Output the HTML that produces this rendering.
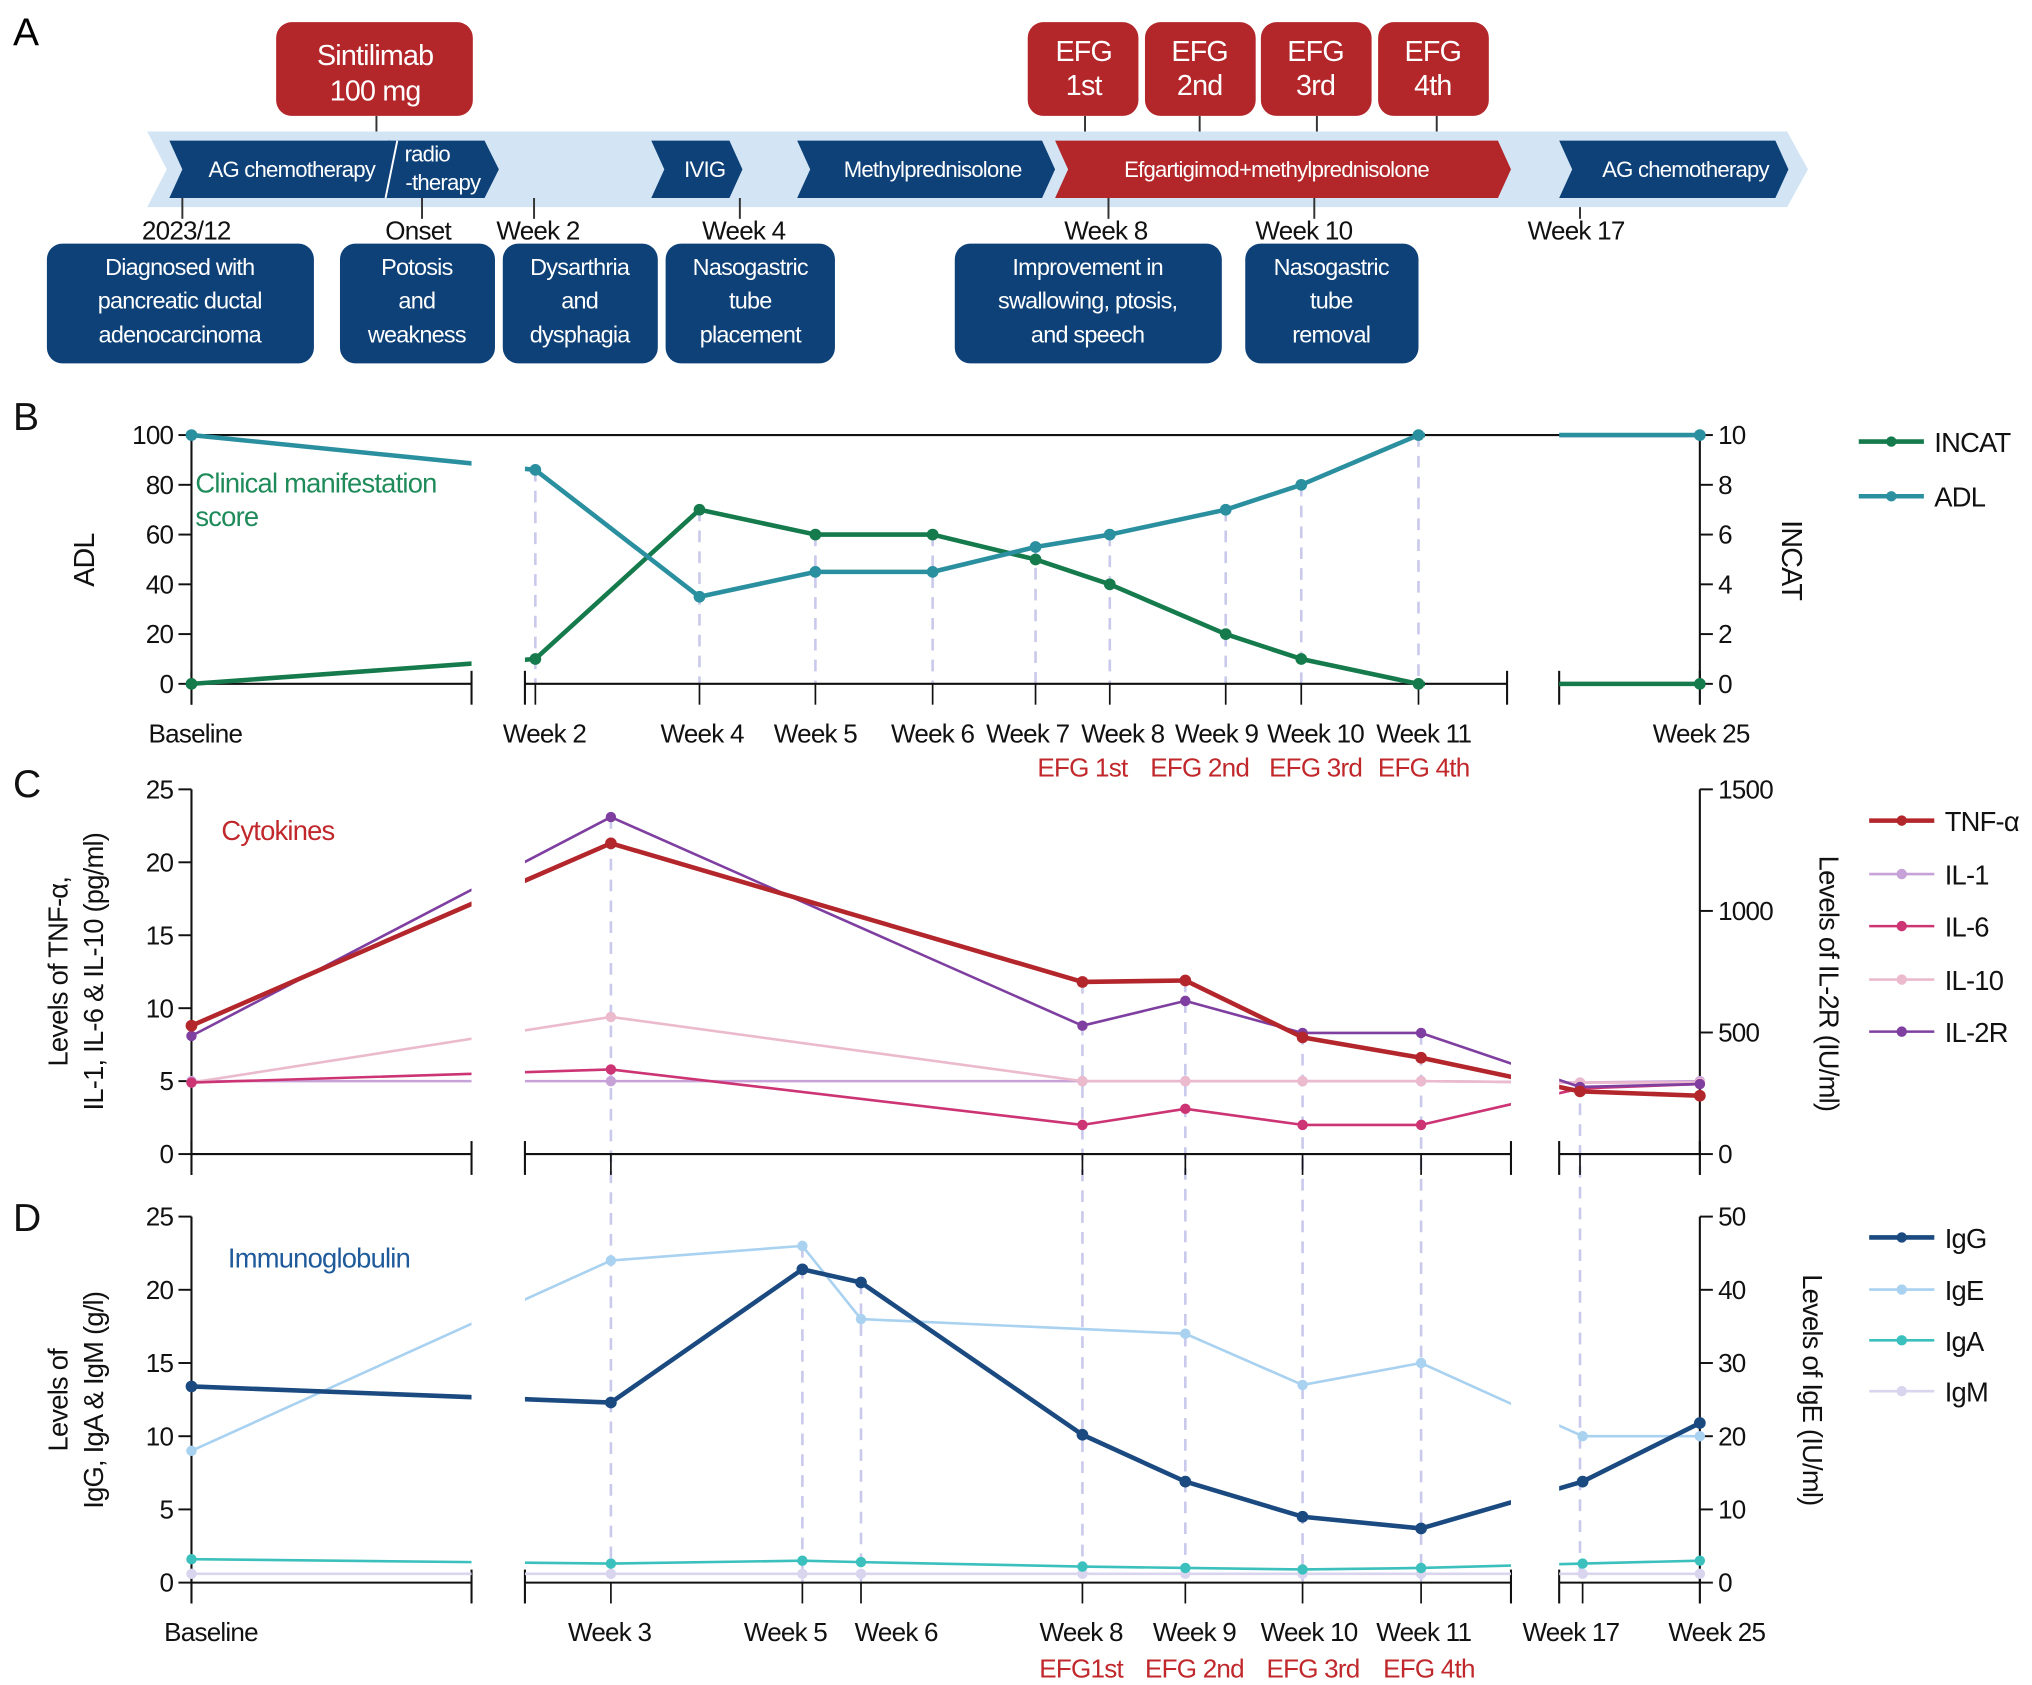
<!DOCTYPE html>
<html><head><meta charset="utf-8">
<style>
html,body{margin:0;padding:0;background:#fff;}
svg{display:block;font-family:"Liberation Sans",Arial,sans-serif;}
svg text{letter-spacing:-0.6px;}
</style></head>
<body>
<svg id="fig" width="2032" height="1685" viewBox="0 0 1560 1293.6" preserveAspectRatio="none" xmlns="http://www.w3.org/2000/svg">
<rect width="1560" height="1294" fill="#fff"/>
<!-- Panel A -->
<g>
<text x="10" y="35" font-size="30">A</text>
<g fill="#b3272b">
<rect x="212" y="17" width="151" height="72" rx="12"/>
<rect x="789" y="17" width="85" height="72" rx="12"/>
<rect x="879" y="17" width="85" height="72" rx="12"/>
<rect x="968" y="17" width="85" height="72" rx="12"/>
<rect x="1058" y="17" width="85" height="72" rx="12"/>
</g>
<g fill="#fff" font-size="22" text-anchor="middle">
<text x="288" y="50">Sintilimab</text><text x="288" y="77">100 mg</text>
<text x="832" y="47">EFG</text><text x="832" y="73">1st</text>
<text x="921" y="47">EFG</text><text x="921" y="73">2nd</text>
<text x="1010" y="47">EFG</text><text x="1010" y="73">3rd</text>
<text x="1100" y="47">EFG</text><text x="1100" y="73">4th</text>
</g>
<g stroke="#333" stroke-width="1.5">
<line x1="289" y1="89" x2="289" y2="104"/><line x1="833" y1="89" x2="833" y2="104"/><line x1="921" y1="89" x2="921" y2="104"/><line x1="1011" y1="89" x2="1011" y2="104"/><line x1="1103" y1="89" x2="1103" y2="104"/>
</g>
<polygon points="113,101 1372,101 1388,130 1372,159 113,159 128,130" fill="#d3e5f4"/>
<g fill="#0d4178">
<polygon points="130,108 300,108 310,130 300,152 130,152 140,130"/>
<polygon points="298,108 372,108 383,130 372,152 298,152 307,130"/>
<polygon points="500,108 560,108 570,130 560,152 500,152 510,130"/>
<polygon points="612,108 800,108 810,130 800,152 612,152 622,130"/>
<polygon points="1197,108 1363,108 1373,130 1363,152 1197,152 1207,130"/>
</g>
<polygon points="810,108 1150,108 1160,130 1150,152 810,152 820,130" fill="#b3272b"/>
<line x1="305" y1="108" x2="296" y2="152" stroke="#fff" stroke-width="1.5"/>
<g fill="#fff" font-size="17" text-anchor="middle">
<text x="224" y="136">AG chemotherapy</text>
<text x="328" y="124">radio</text><text x="340" y="146">-therapy</text>
<text x="541" y="136">IVIG</text>
<text x="716" y="136">Methylprednisolone</text>
<text x="980" y="136">Efgartigimod+methylprednisolone</text>
<text x="1294" y="136">AG chemotherapy</text>
</g>
<g stroke="#333" stroke-width="1.5">
<line x1="140" y1="152" x2="140" y2="168"/><line x1="324" y1="152" x2="324" y2="168"/><line x1="410" y1="152" x2="410" y2="168"/><line x1="568" y1="152" x2="568" y2="168"/><line x1="851" y1="152" x2="851" y2="168"/><line x1="1009" y1="152" x2="1009" y2="168"/><line x1="1213" y1="159" x2="1213" y2="168"/>
</g>
<g font-size="20" text-anchor="middle" fill="#111">
<text x="143" y="184">2023/12</text><text x="321" y="184">Onset</text><text x="413" y="184">Week 2</text><text x="571" y="184">Week 4</text><text x="849" y="184">Week 8</text><text x="1001" y="184">Week 10</text><text x="1210" y="184">Week 17</text>
</g>
<g fill="#0d4178">
<rect x="36" y="187" width="205" height="92" rx="12"/>
<rect x="261" y="187" width="119" height="92" rx="12"/>
<rect x="386" y="187" width="119" height="92" rx="12"/>
<rect x="511" y="187" width="130" height="92" rx="12"/>
<rect x="733" y="187" width="205" height="92" rx="12"/>
<rect x="956" y="187" width="133" height="92" rx="12"/>
</g>
<g fill="#fff" font-size="18" text-anchor="middle">
<text x="138" y="211">Diagnosed with</text><text x="138" y="237">pancreatic ductal</text><text x="138" y="263">adenocarcinoma</text>
<text x="320" y="211">Potosis</text><text x="320" y="237">and</text><text x="320" y="263">weakness</text>
<text x="445" y="211">Dysarthria</text><text x="445" y="237">and</text><text x="445" y="263">dysphagia</text>
<text x="576" y="211">Nasogastric</text><text x="576" y="237">tube</text><text x="576" y="263">placement</text>
<text x="835" y="211">Improvement in</text><text x="835" y="237">swallowing, ptosis,</text><text x="835" y="263">and speech</text>
<text x="1022" y="211">Nasogastric</text><text x="1022" y="237">tube</text><text x="1022" y="263">removal</text>
</g>
</g>
<g id="charts"></g>
</svg>
<script>
// ---------- DATA ----------
const bCats = ['Baseline','Week 2','Week 4','Week 5','Week 6','Week 7','Week 8','Week 9','Week 10','Week 11','Week 25'];
const bADL   = [100, 86, 35, 45, 45, 55, 60, 70, 80, 100, 100];
const bINCAT = [0, 1, 7, 6, 6, 5, 4, 2, 1, 0, 0];
const bLeftTicks = [0,20,40,60,80,100];
const bRightTicks = [0,2,4,6,8,10];

const cCats = ['Baseline','Week 3','Week 8','Week 9','Week 10','Week 11','Week 17','Week 25'];
const cTNF  = [8.8, 21.3, 11.8, 11.9, 8.0, 6.6, 4.3, 4.0];
const cIL1  = [5.0, 5.0, 5.0, 5.0, 5.0, 5.0, 4.9, 5.0];
const cIL6  = [4.9, 5.8, 2.0, 3.1, 2.0, 2.0, 4.5, 4.8];
const cIL10 = [4.9, 9.4, 5.0, 5.0, 5.0, 5.0, 4.9, 4.9];
const cIL2R = [486, 1386, 528, 630, 498, 498, 276, 288];
const cLeftTicks = [0,5,10,15,20,25];
const cRightTicks = [0,500,1000,1500];

const dCats = ['Baseline','Week 3','Week 5','Week 6','Week 8','Week 9','Week 10','Week 11','Week 17','Week 25'];
const dIgG = [13.4, 12.3, 21.4, 20.5, 10.1, 6.9, 4.5, 3.7, 6.9, 10.9];
const dIgE = [18, 44, 46, 36, null, 34, 27, 30, 20, 20];
const dIgA = [1.6, 1.3, 1.5, 1.4, 1.1, 1.0, 0.9, 1.0, 1.3, 1.5];
const dIgM = [0.6, 0.6, 0.6, 0.6, 0.6, 0.6, 0.6, 0.6, 0.6, 0.6];
const dLeftTicks = [0,5,10,15,20,25];
const dRightTicks = [0,10,20,30,40,50];

// ---------- LAYOUT ----------
const NS='http://www.w3.org/2000/svg';
const root=document.getElementById('charts');
function mk(tag,attrs,parent){const e=document.createElementNS(NS,tag);for(const k in attrs)e.setAttribute(k,attrs[k]);(parent||root).appendChild(e);return e;}
const XL=147, XR=1305;
const bX={'Baseline':147,'Week 2':411,'Week 4':537,'Week 5':626,'Week 6':716,'Week 7':795,'Week 8':852,'Week 9':941,'Week 10':999,'Week 11':1089,'Week 25':1305};
const cX={'Baseline':147,'Week 3':469,'Week 8':831,'Week 9':910,'Week 10':1000,'Week 11':1091,'Week 17':1213,'Week 25':1305};
const dX={'Baseline':147,'Week 3':469,'Week 5':616,'Week 6':661,'Week 8':831,'Week 9':910,'Week 10':1000,'Week 11':1091,'Week 17':1215,'Week 25':1305};

function scale(d0,d1,p0,p1){return v=>p0+(v-d0)*(p1-p0)/(d1-d0);}

let clipN=0;
function makeClip(gapEnd){
  const id='clip'+(clipN++);
  const cp=mk('clipPath',{id:id});
  mk('rect',{x:0,y:0,width:362,height:1300},cp);
  mk('rect',{x:403,y:0,width:gapEnd-403,height:1300},cp);
  mk('rect',{x:1197,y:0,width:400,height:1300},cp);
  return id;
}

function axes(p){
  const g=mk('g',{});
  
  
  mk('line',{x1:XL,y1:p.y0,x2:XL,y2:p.yTop,stroke:'#111','stroke-width':1.6},g);
  mk('line',{x1:XR,y1:p.y0,x2:XR,y2:p.yTop,stroke:'#111','stroke-width':1.6},g);
  if(p.topLine) mk('line',{x1:XL,y1:p.yTop,x2:XR,y2:p.yTop,stroke:'#111','stroke-width':1.6},g);
  [[XL,362],[403,p.gapEnd],[1197,XR]].forEach(s=>{
    mk('line',{x1:s[0],y1:p.y0,x2:s[1],y2:p.y0,stroke:'#111','stroke-width':1.6},g);
    mk('line',{x1:s[0],y1:p.y0-10,x2:s[0],y2:p.y0+16,stroke:'#111','stroke-width':1.6},g);
    mk('line',{x1:s[1],y1:p.y0-10,x2:s[1],y2:p.y0+16,stroke:'#111','stroke-width':1.6},g);
  });
  for(const c in p.xmap){mk('line',{x1:p.xmap[c],y1:p.y0,x2:p.xmap[c],y2:p.y0+16,stroke:'#111','stroke-width':1.3},g);}
  p.lt.forEach(t=>{const y=p.ly(t);
    mk('line',{x1:XL-10,y1:y,x2:XL,y2:y,stroke:'#111','stroke-width':1.5},g);
    const tx=mk('text',{x:XL-14,y:y+7,'font-size':20,'text-anchor':'end',fill:'#111'},g);tx.textContent=t;
    
    });
  p.rt.forEach(t=>{const y=p.ry(t);
    mk('line',{x1:XR,y1:y,x2:XR+10,y2:y,stroke:'#111','stroke-width':1.5},g);
    const tx=mk('text',{x:XR+14,y:y+7,'font-size':20,'text-anchor':'start',fill:'#111'},g);tx.textContent=t;
    
    });
}

function series(p,cats,vals,ysc,color,w,r,name){
  const g=mk('g',{'clip-path':'url(#'+p.clip+')'});
  
  
  const pts=[];
  cats.forEach((c,i)=>{if(vals[i]!==null)pts.push([p.xmap[c],ysc(vals[i]),i]);});
  mk('polyline',{points:pts.map(q=>q[0]+','+q[1]).join(' '),fill:'none',stroke:color,'stroke-width':w,'stroke-linejoin':'round'},g);
  pts.forEach(q=>{
    const c=mk('circle',{cx:q[0],cy:q[1],r:r,fill:color},g);
    
    });
  return pts;
}

function legend(x,y,color,label,w){
  const g=mk('g',{});
  
  
  mk('line',{x1:x,y1:y,x2:x+50,y2:y,stroke:color,'stroke-width':w},g);
  mk('circle',{cx:x+25,cy:y,r:4,fill:color},g);
  const t=mk('text',{x:x+58,y:y+8,'font-size':21,fill:'#111'},g);t.textContent=label;
}
function txt(x,y,s,size,color,anchor,rot,name){
  const t=mk('text',{x:x,y:y,'font-size':size,fill:color,'text-anchor':anchor||'start'});
  if(rot)t.setAttribute('transform','rotate('+rot+' '+x+' '+y+')');
  t.textContent=s;
  
  
  return t;
}
function dash(x,y1,y2){mk('line',{x1:x,y1:y1,x2:x,y2:y2,stroke:'#c9c9ec','stroke-width':2,'stroke-dasharray':'9 7'});}

// ---------- PANEL B ----------
(function(){
  const p={name:'panel-b',y0:525,yTop:334,topLine:true,gapEnd:1157,xmap:bX,lt:bLeftTicks,rt:bRightTicks};
  p.ly=scale(0,100,525,334); p.ry=scale(0,10,525,334); p.clip=makeClip(1094);
  txt(10,330,'B',30,'#111','start',0,'panel-label-b');
  bCats.forEach((c,i)=>{ if(i===0||c==='Week 25')return; dash(bX[c],Math.min(p.ly(bADL[i]),p.ry(bINCAT[i])),525);});
  axes(p);
  series(p,bCats,bINCAT,p.ry,'#157a4c',3.5,4.5,'incat');
  series(p,bCats,bADL,p.ly,'#2a8f9f',3.5,4.5,'adl');
  const bl={'Baseline':150,'Week 2':418,'Week 4':539,'Week 5':626,'Week 6':716,'Week 7':789,'Week 8':862,'Week 9':934,'Week 10':1010,'Week 11':1093,'Week 25':1306};
  bCats.forEach(c=>txt(bl[c],570,c,20,'#111','middle',0,'x-tick-label'));
  [['EFG 1st',831],['EFG 2nd',921],['EFG 3rd',1010],['EFG 4th',1093]].forEach(e=>txt(e[1],596,e[0],20,'#c0282c','middle',0,'efg-dose-label'));
  txt(72,430,'ADL',22,'#111','middle',-90,'y-axis-title-adl');
  txt(1368,430,'INCAT',22,'#111','middle',90,'y-axis-title-incat');
  txt(150,378,'Clinical manifestation',21,'#1f8a5a','start',0,'panel-b-title');
  txt(150,404,'score',21,'#1f8a5a','start',0,'panel-b-title');
  legend(1427,339,'#157a4c','INCAT',3.5);
  legend(1427,381,'#2a8f9f','ADL',3.5);
})();

// ---------- PANEL C & D ----------
const pc={name:'panel-c',y0:886,yTop:606,topLine:false,gapEnd:1160,xmap:cX,lt:cLeftTicks,rt:cRightTicks};
pc.ly=scale(0,25,886,606); pc.ry=scale(0,1500,886,606); pc.clip=makeClip(1160);
const pd={name:'panel-d',y0:1215,yTop:934,topLine:false,gapEnd:1160,xmap:dX,lt:dLeftTicks,rt:dRightTicks};
pd.ly=scale(0,25,1215,934); pd.ry=scale(0,50,1215,934); pd.clip=makeClip(1160);

cCats.forEach((c,i)=>{ if(i===0||c==='Week 25')return;
  const top=Math.min(pc.ly(cTNF[i]),pc.ry(cIL2R[i]),pc.ly(cIL10[i]),pc.ly(cIL6[i]));
  dash(cX[c],top,1215);});
dCats.forEach((c,i)=>{ if(c==='Week 5'||c==='Week 6'){
  dash(dX[c],Math.min(pd.ly(dIgG[i]),pd.ry(dIgE[i])),1215);}});

(function(){
  const p=pc;
  txt(10,612,'C',30,'#111','start',0,'panel-label-c');
  axes(p);
  series(p,cCats,cIL1,p.ly,'#c7a2d9',2,4,'il1');
  series(p,cCats,cIL10,p.ly,'#ebbacd',2,4,'il10');
  series(p,cCats,cIL6,p.ly,'#cc3474',2,4,'il6');
  series(p,cCats,cIL2R,p.ry,'#7e3fa0',2,4,'il2r');
  series(p,cCats,cTNF,p.ly,'#b3262b',3.5,4.5,'tnf-alpha');
  txt(170,645,'Cytokines',21,'#c0282c','start',0,'panel-c-title');
  txt(52,746,'Levels of TNF-α,',21,'#111','middle',-90,'y-axis-title-cytokines');
  txt(79,746,'IL-1, IL-6 & IL-10 (pg/ml)',21,'#111','middle',-90,'y-axis-title-cytokines');
  txt(1397,755,'Levels of IL-2R (IU/ml)',21,'#111','middle',90,'y-axis-title-il2r');
  legend(1435,630,'#b3262b','TNF-α',3.5);
  legend(1435,671,'#c7a2d9','IL-1',2);
  legend(1435,711,'#cc3474','IL-6',2);
  legend(1435,752,'#ebbacd','IL-10',2);
  legend(1435,792,'#7e3fa0','IL-2R',2);
})();

(function(){
  const p=pd;
  txt(10,945,'D',30,'#111','start',0,'panel-label-d');
  axes(p);
  series(p,dCats,dIgM,p.ly,'#d9d5ee',2,4,'igm');
  series(p,dCats,dIgA,p.ly,'#3cc0bd',2,4,'iga');
  series(p,dCats,dIgE,p.ry,'#a9d1f0',2,4,'ige');
  series(p,dCats,dIgG,p.ly,'#1a4a80',3.5,4.5,'igg');
  const lx={'Baseline':162,'Week 3':468,'Week 5':603,'Week 6':688,'Week 8':830,'Week 9':917,'Week 10':1005,'Week 11':1093,'Week 17':1206,'Week 25':1318};
  dCats.forEach(c=>txt(lx[c],1260,c,20,'#111','middle',0,'x-tick-label'));
  [['EFG1st',830],['EFG 2nd',917],['EFG 3rd',1008],['EFG 4th',1097]].forEach(e=>txt(e[1],1288,e[0],20,'#c0282c','middle',0,'efg-dose-label'));
  txt(175,973,'Immunoglobulin',21,'#1f5a9a','start',0,'panel-d-title');
  txt(52,1075,'Levels of',21,'#111','middle',-90,'y-axis-title-ig');
  txt(79,1075,'IgG, IgA & IgM (g/l)',21,'#111','middle',-90,'y-axis-title-ig');
  txt(1384,1067,'Levels of IgE (IU/ml)',21,'#111','middle',90,'y-axis-title-ige');
  legend(1435,950,'#1a4a80','IgG',3.5);
  legend(1435,990,'#a9d1f0','IgE',2);
  legend(1435,1029,'#3cc0bd','IgA',2);
  legend(1435,1068,'#d9d5ee','IgM',2);
})();
</script>
</body></html>
